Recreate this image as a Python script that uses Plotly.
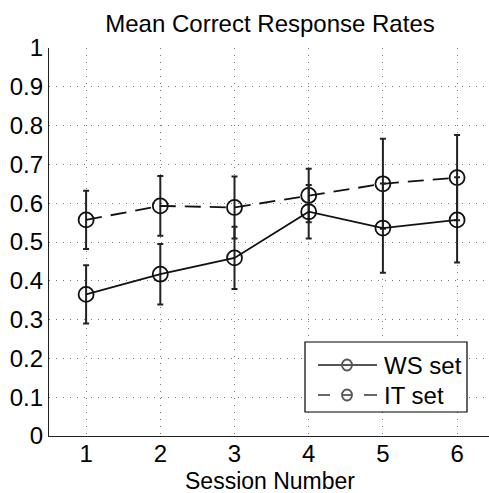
import plotly.graph_objects as go

sessions = [1, 2, 3, 4, 5, 6]
ws_mean = [0.365, 0.417, 0.459, 0.578, 0.536, 0.557]
ws_err = [0.075, 0.078, 0.080, 0.069, 0.115, 0.110]
it_mean = [0.557, 0.593, 0.589, 0.620, 0.650, 0.666]
it_err = [0.075, 0.077, 0.080, 0.069, 0.116, 0.110]
x_ticks = [1, 2, 3, 4, 5, 6]
y_ticks = [0, 0.1, 0.2, 0.3, 0.4, 0.5, 0.6, 0.7, 0.8, 0.9, 1]
y_labels = ["0", "0.1", "0.2", "0.3", "0.4", "0.5", "0.6", "0.7", "0.8", "0.9", "1"]
series_names = ["WS set", "IT set"]

FONT = "Liberation Sans"
W, H = 489, 493
ML, MR, MT, MB = 49, 0, 48, 57
PW, PH = W - ML - MR, H - MT - MB

fig = go.Figure()
fig.add_trace(go.Scatter(
    x=sessions, y=it_mean, mode="lines+markers", name=series_names[1], showlegend=False,
    line=dict(color="#111", width=1.8, dash="16px,9px"),
    marker=dict(symbol="circle-open", size=15, color="#111", line=dict(width=1.8)),
    error_y=dict(type="data", array=it_err, visible=True, color="#222", thickness=2, width=3),
))
fig.add_trace(go.Scatter(
    x=sessions, y=ws_mean, mode="lines+markers", name=series_names[0], showlegend=False,
    line=dict(color="#111", width=1.8),
    marker=dict(symbol="circle-open", size=15, color="#111", line=dict(width=1.8)),
    error_y=dict(type="data", array=ws_err, visible=True, color="#222", thickness=2, width=3),
))

# custom legend box (layout decoration)
def px_x(p):
    return (p - ML) / PW

def px_y(p):
    return (MT + PH - p) / PH

shapes = []
annotations = []
shapes.append(dict(type="rect", xref="paper", yref="paper",
                   x0=px_x(305), x1=px_x(467), y0=px_y(412), y1=px_y(342),
                   line=dict(color="black", width=1.2), fillcolor="white", layer="above"))
LG = "#555"
rows = [365, 395]
for i, (name, ry) in enumerate(zip(series_names, rows)):
    if i == 0:
        shapes.append(dict(type="line", xref="paper", yref="paper",
                           x0=px_x(318), x1=px_x(377), y0=px_y(ry), y1=px_y(ry),
                           line=dict(color=LG, width=1.8), layer="above"))
    else:
        for a, b in [(318, 330), (364, 377)]:
            shapes.append(dict(type="line", xref="paper", yref="paper",
                               x0=px_x(a), x1=px_x(b), y0=px_y(ry), y1=px_y(ry),
                               line=dict(color=LG, width=1.8), layer="above"))
        shapes.append(dict(type="line", xref="paper", yref="paper",
                           x0=px_x(342), x1=px_x(352), y0=px_y(ry), y1=px_y(ry),
                           line=dict(color=LG, width=1.8), layer="above"))
    shapes.append(dict(type="circle", xref="paper", yref="paper",
                       x0=px_x(342), x1=px_x(352), y0=px_y(ry + 5.5), y1=px_y(ry - 5.5),
                       line=dict(color=LG, width=1.8), fillcolor="rgba(0,0,0,0)", layer="above"))
    annotations.append(dict(text=name, xref="paper", yref="paper", x=px_x(382), y=px_y(ry),
                            xanchor="left", yanchor="middle", showarrow=False,
                            font=dict(family=FONT, size=24, color="black")))

# x-axis title as annotation, positioned below tick labels
annotations.append(dict(text="Session Number", xref="paper", yref="paper",
                        x=px_x(270), y=px_y(481), xanchor="center", yanchor="middle",
                        showarrow=False, borderpad=0,
                        font=dict(family=FONT, size=23, color="black")))

fig.update_layout(
    width=W, height=H,
    margin=dict(l=ML, r=MR, t=MT, b=MB),
    paper_bgcolor="white", plot_bgcolor="white",
    font=dict(family=FONT, size=24, color="black"),
    title=dict(text="Mean Correct Response Rates", x=270 / W, xanchor="center",
               y=1 - 24 / H, yanchor="middle", font=dict(size=24)),
    showlegend=False,
    shapes=shapes, annotations=annotations,
    xaxis=dict(range=[0.5, 6.43], tickvals=x_ticks, ticktext=[str(v) for v in x_ticks],
               showgrid=True, gridcolor="#777", griddash="1px,6px", gridwidth=1,
               showline=True, linecolor="#222", linewidth=1.2,
               ticks="", zeroline=False, ticklabelstandoff=-4),
    yaxis=dict(range=[0, 1], tickvals=y_ticks, ticktext=y_labels,
               showgrid=True, gridcolor="#777", griddash="1px,6px", gridwidth=1,
               showline=True, linecolor="#222", linewidth=1.2,
               ticks="", zeroline=False),
)

fig.write_html("out.html")
